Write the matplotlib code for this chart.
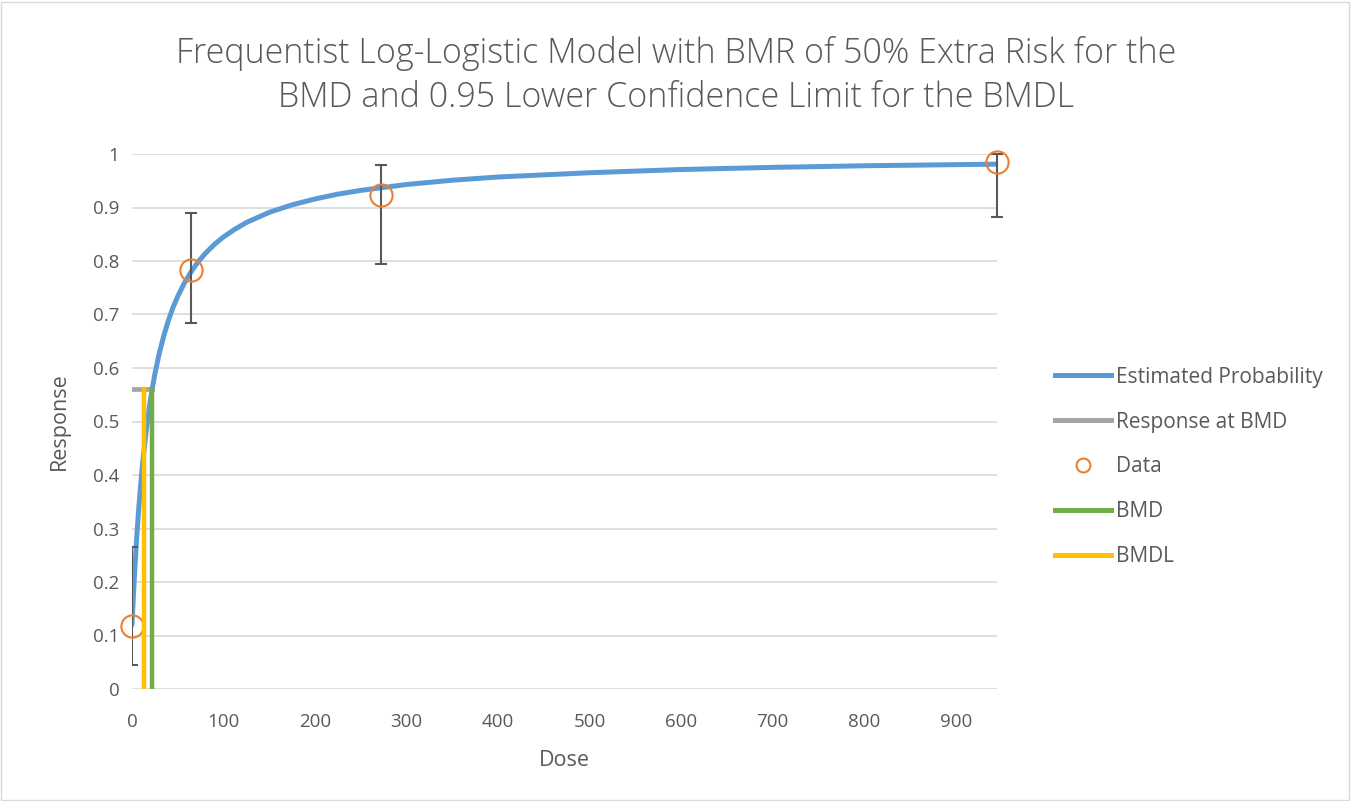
import matplotlib.pyplot as plt
from matplotlib.patches import Rectangle
from matplotlib.lines import Line2D

# estimated probability curve
curve_dose = [0, 1, 2, 3, 5, 7, 8, 10, 12, 15, 18, 20, 22, 25, 30, 35, 40, 45, 50, 57,
              65, 72, 80, 90, 100, 112, 125, 150, 175, 200, 225, 250, 300, 350, 400,
              450, 500, 600, 700, 800, 945]
curve_resp = [0.12, 0.156, 0.19, 0.222, 0.279, 0.329, 0.351, 0.392, 0.428, 0.475, 0.515,
              0.539, 0.56, 0.589, 0.629, 0.662, 0.69, 0.714, 0.734, 0.758, 0.781, 0.798,
              0.814, 0.831, 0.845, 0.859, 0.872, 0.891, 0.905, 0.916, 0.925, 0.932,
              0.943, 0.951, 0.957, 0.961, 0.965, 0.971, 0.975, 0.978, 0.981]

# observed data with confidence limits
data_dose = [0, 64.5, 272, 945]
data_resp = [0.118, 0.783, 0.923, 0.985]
data_lower = [0.045, 0.684, 0.795, 0.883]
data_upper = [0.265, 0.89, 0.979, 1.0]

bmd = 22
bmdl = 13
bmd_resp = 0.56

text_col = '#595959'
plt.rcParams['font.family'] = ['Open Sans', 'DejaVu Sans']

fig = plt.figure(figsize=(13.52, 8.01), dpi=100)
ax = fig.add_axes([132 / 1352, 1 - 689 / 801, (997 - 132) / 1352, (689 - 154) / 801])

for y in [0.1 * i for i in range(11)]:
    ax.axhline(y, color='#d9d9d9', lw=1.2, zorder=0)

ax.plot(curve_dose, curve_resp, color='#5b9bd5', lw=3.6, solid_capstyle='round',
        solid_joinstyle='round', zorder=2)
ax.plot([0, bmd], [bmd_resp, bmd_resp], color='#a5a5a5', lw=3.4, zorder=3)

# error bars: the one at dose 0 is cut by the plot edge, the others are not
for i in range(len(data_dose)):
    eb = ax.errorbar([data_dose[i]], [data_resp[i]],
                     yerr=[[data_resp[i] - data_lower[i]], [data_upper[i] - data_resp[i]]],
                     fmt='none', ecolor='#595959', elinewidth=1.5, capsize=4.5, capthick=1.5,
                     zorder=4)
    if i > 0:
        for art in eb.lines[1] + eb.lines[2]:
            art.set_clip_on(False)
ax.plot(data_dose, data_resp, 'o', ms=16, mfc='none', mec='#ed7d31', mew=1.5, zorder=5,
        clip_on=False)
ax.plot([bmd, bmd], [0, bmd_resp], color='#70ad47', lw=3.2, zorder=6)
ax.plot([bmdl, bmdl], [0, bmd_resp], color='#ffc000', lw=3.2, zorder=7)

ax.set_xlim(0, 945)
ax.set_ylim(0, 1)
ax.set_xticks(range(0, 1000, 100))
ax.set_yticks([0.1 * i for i in range(11)])
ax.set_yticklabels(['0', '0.1', '0.2', '0.3', '0.4', '0.5', '0.6', '0.7', '0.8', '0.9', '1'])
for s in ax.spines.values():
    s.set_visible(False)
ax.tick_params(length=0, labelsize=13.5, colors=text_col)
ax.tick_params(axis='x', pad=17)
ax.tick_params(axis='y', pad=9)
ax.set_xlabel('Dose', fontsize=15.5, color=text_col, labelpad=14)
ax.set_ylabel('Response', fontsize=15.5, color=text_col, labelpad=17)

fig.text(0.5, 1 - 36 / 801,
         'Frequentist Log-Logistic Model with BMR of 50% Extra Risk for the\n'
         'BMD and 0.95 Lower Confidence Limit for the BMDL',
         ha='center', va='top', fontsize=24.5, color=text_col, fontweight='light',
         linespacing=1.35)

handles = [Line2D([], [], color='#5b9bd5', lw=3.6),
           Line2D([], [], color='#a5a5a5', lw=3.6),
           Line2D([], [], ls='none', marker='o', ms=10, mfc='none', mec='#ed7d31', mew=1.5),
           Line2D([], [], color='#70ad47', lw=3.6),
           Line2D([], [], color='#ffc000', lw=3.6)]
labels = ['Estimated Probability', 'Response at BMD', 'Data', 'BMD', 'BMDL']
fig.legend(handles, labels, loc='center left', bbox_to_anchor=(1047 / 1352, 1 - 467 / 801),
           borderaxespad=0, frameon=False, fontsize=15, labelcolor=text_col,
           handlelength=2.65, handletextpad=0.25, labelspacing=1.15)

fig.patches.append(Rectangle((0.001, 0.001), 0.997, 0.997, transform=fig.transFigure,
                             fill=False, ec='#d9d9d9', lw=1))

fig.savefig('out.png', dpi=100)
